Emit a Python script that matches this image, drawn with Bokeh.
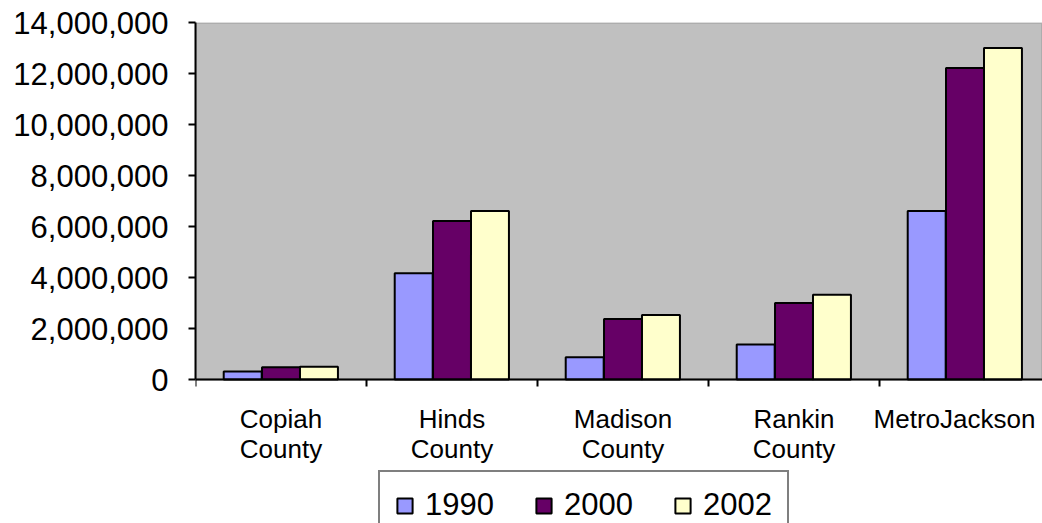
from bokeh.plotting import figure
from bokeh.models import (ColumnDataSource, Range1d, FixedTicker, NumeralTickFormatter,
                          Legend, LegendItem, BoxAnnotation)
from bokeh.transform import dodge
from bokeh.embed import file_html
from bokeh.resources import INLINE

categories = ["Copiah\nCounty", "Hinds\nCounty", "Madison\nCounty", "Rankin\nCounty", "MetroJackson"]
years = ["1990", "2000", "2002"]
v1990 = [310000, 4170000, 870000, 1370000, 6610000]
v2000 = [480000, 6220000, 2370000, 3000000, 12220000]
v2002 = [500000, 6610000, 2530000, 3320000, 13000000]
colors = ["#9999FF", "#660066", "#FFFFCC"]
y_ticks = [0, 2000000, 4000000, 6000000, 8000000, 10000000, 12000000, 14000000]
y_max = 14000000

FONT = "Liberation Sans"

xpos = [i + 0.5 for i in range(len(categories))]
src = ColumnDataSource(dict(x=xpos, v1990=v1990, v2000=v2000, v2002=v2002))

W, H = 1042, 523
left, top = 195, 22
zero_px = 379          # screen y of value 0
cat_px = 171.0
frame_w = W - left
x_end = frame_w / cat_px
plot_h = zero_px - top
below_h = H - zero_px
y_min = -y_max * below_h / plot_h

p = figure(width=W, height=H, output_backend="svg", toolbar_location=None,
           x_range=Range1d(0, x_end), y_range=Range1d(y_min, y_max),
           min_border_left=left, min_border_right=0, min_border_top=top,
           min_border_bottom=0)
p.border_fill_color = "white"
p.background_fill_color = "white"
p.outline_line_color = None
p.xgrid.visible = False
p.ygrid.visible = False

# gray plot area
p.add_layout(BoxAnnotation(bottom=0, top=y_max, fill_color="#C0C0C0", fill_alpha=1,
                           line_color="#808080", line_width=3, level="underlay"))

bw = 0.222
offs = [-0.224, 0.0, 0.222]
renderers = []
for yr, col, off in zip(years, colors, offs):
    r = p.vbar(x=dodge("x", off, range=p.x_range), top="v" + yr, width=bw, bottom=0,
               source=src, fill_color=col, line_color="black", line_width=2)
    renderers.append(r)

# y axis
ya = p.yaxis[0]
ya.bounds = (0, y_max)
ya.ticker = FixedTicker(ticks=y_ticks)
ya.formatter = NumeralTickFormatter(format="0,0")
ya.axis_line_color = "black"
ya.axis_line_width = 2
ya.major_tick_line_color = "black"
ya.major_tick_line_width = 2
ya.major_tick_out = 7
ya.major_tick_in = 0
ya.minor_tick_line_color = None
ya.major_label_standoff = 20
ya.major_label_text_font = FONT
ya.major_label_text_font_size = "31px"
ya.major_label_text_color = "black"

# category labels: centred under each group, the last one kept inside the chart
label_x = list(xpos)
label_x[-1] = min(label_x[-1], x_end - 88 / cat_px)

xa = p.xaxis[0]
xa.fixed_location = 0
xa.ticker = FixedTicker(ticks=label_x, minor_ticks=list(range(len(categories) + 1)))
xa.major_label_overrides = {x: c for x, c in zip(label_x, categories)}
xa.axis_line_color = "black"
xa.axis_line_width = 2
xa.major_tick_line_color = None
xa.minor_tick_line_color = "black"
xa.minor_tick_line_width = 2
xa.minor_tick_out = 7
xa.minor_tick_in = 0
xa.major_label_standoff = 17
xa.major_label_text_font = FONT
xa.major_label_text_font_size = "26px"
xa.major_label_text_line_height = 1.0
xa.major_label_text_color = "black"

legend = Legend(items=[LegendItem(label=yr, renderers=[r]) for yr, r in zip(years, renderers)],
                orientation="horizontal", location=(183, -17))
legend.label_text_font = FONT
legend.label_text_font_size = "31px"
legend.label_text_color = "black"
legend.glyph_width = 19
legend.glyph_height = 19
legend.label_standoff = 11
legend.spacing = 40
legend.padding = 15
legend.margin = 0
legend.border_line_color = "black"
legend.border_line_width = 2
legend.background_fill_color = "white"
legend.background_fill_alpha = 1
p.add_layout(legend, "center")

open("out.html", "w").write(file_html(p, INLINE))
